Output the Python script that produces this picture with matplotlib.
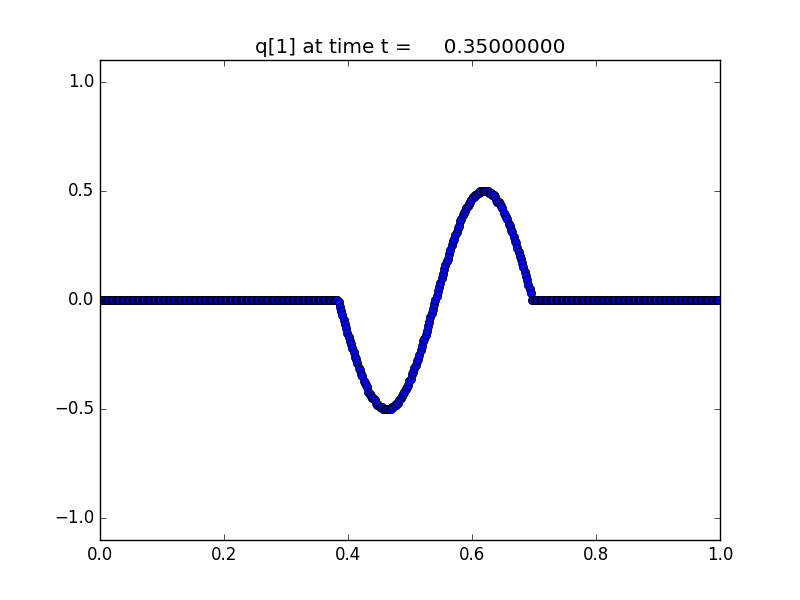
import numpy as np
import matplotlib
matplotlib.use("Agg")
import matplotlib.pyplot as plt

plt.style.use('classic')

# Grid: 500 cells on [0, 1]
num_cells = 500
first_wave_cell = 192

# q[1] values on the cells where the wave is nonzero
wave_values = [
    -0.01, -0.03, -0.05, -0.07, -0.09, -0.11, -0.13, -0.15, -0.17, -0.19,
    -0.20, -0.22, -0.24, -0.26, -0.27, -0.29, -0.31, -0.32, -0.34, -0.35,
    -0.37, -0.38, -0.39, -0.40, -0.42, -0.43, -0.44, -0.45, -0.45, -0.46,
    -0.47, -0.48, -0.48, -0.49, -0.49, -0.49, -0.50, -0.50, -0.50, -0.50,
    -0.50, -0.50, -0.50, -0.49, -0.49, -0.48, -0.48, -0.47, -0.47, -0.46,
    -0.45, -0.44, -0.43, -0.42, -0.41, -0.40, -0.39, -0.37, -0.36, -0.34,
    -0.33, -0.31, -0.30, -0.28, -0.27, -0.25, -0.23, -0.21, -0.19, -0.18,
    -0.16, -0.14, -0.12, -0.10, -0.08, -0.06, -0.04, -0.02, 0.00, 0.02,
    0.04, 0.06, 0.08, 0.10, 0.12, 0.14, 0.16, 0.18, 0.19, 0.21,
    0.23, 0.25, 0.27, 0.28, 0.30, 0.31, 0.33, 0.34, 0.36, 0.37,
    0.39, 0.40, 0.41, 0.42, 0.43, 0.44, 0.45, 0.46, 0.47, 0.47,
    0.48, 0.48, 0.49, 0.49, 0.50, 0.50, 0.50, 0.50, 0.50, 0.50,
    0.50, 0.49, 0.49, 0.49, 0.48, 0.48, 0.47, 0.46, 0.45, 0.45,
    0.44, 0.43, 0.42, 0.40, 0.39, 0.38, 0.37, 0.35, 0.34, 0.32,
    0.31, 0.29, 0.27, 0.26, 0.24, 0.22, 0.20, 0.19, 0.17, 0.15,
    0.13, 0.11, 0.09, 0.07, 0.05, 0.03,
]
left_zeros = [0.0] * first_wave_cell
right_zeros = [0.0] * (num_cells - first_wave_cell - len(wave_values))
q_values = left_zeros + wave_values + right_zeros

x_centers = (np.arange(num_cells) + 0.5) / num_cells

title_text = 'q[1] at time t = %14.8f' % 0.35
x_ticks = [0.0, 0.2, 0.4, 0.6, 0.8, 1.0]
y_ticks = [-1.0, -0.5, 0.0, 0.5, 1.0]

fig = plt.figure(figsize=(8, 6), dpi=100, facecolor='white')
ax = fig.add_subplot(111)
ax.plot(x_centers, q_values, 'bo', markersize=6, markeredgecolor='black', markeredgewidth=0.5)
ax.set_xlim(0, 1)
ax.set_ylim(-1.1, 1.1)
ax.set_xticks(x_ticks)
ax.set_yticks(y_ticks)
ax.set_title(title_text)
fig.savefig('out.png', dpi=100, facecolor='white')
